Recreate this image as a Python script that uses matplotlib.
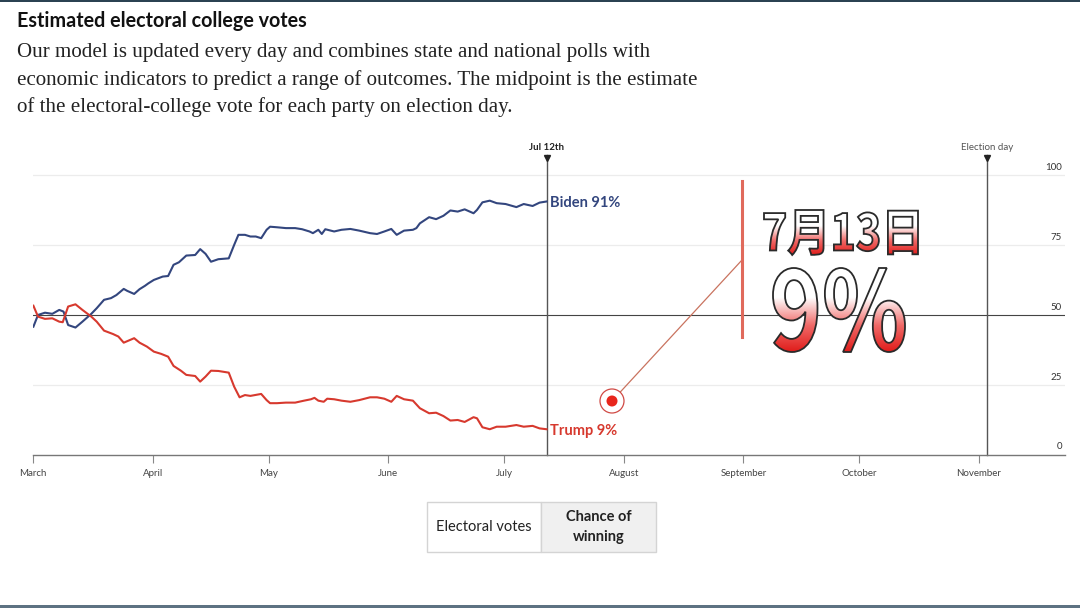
import numpy as np
import matplotlib
matplotlib.use("Agg")
import matplotlib.pyplot as plt
from matplotlib.textpath import TextPath
from matplotlib.font_manager import FontProperties
from matplotlib.patches import PathPatch, Rectangle, Circle
from matplotlib.transforms import Affine2D
from matplotlib.colors import LinearSegmentedColormap

# days counted from 1 March
biden_days = [0.1, 1.3, 3.1, 5.0, 6.8, 7.9, 9.1, 11.0, 12.8, 15.1, 16.5, 18.4, 20.2, 21.6,
              23.5, 24.4, 26.2, 27.6, 29.0, 29.9, 31.3, 33.6, 35.0, 36.4, 37.8, 39.7, 42.0,
              43.3, 44.7, 46.1, 48.0, 50.7, 52.1, 53.2, 54.9, 56.3, 57.7, 59.1, 60.5, 61.4,
              63.2, 65.5, 67.9, 69.7, 71.6, 72.5, 73.9, 74.8, 75.7, 78.0, 79.9, 82.2, 84.5,
              87.3, 89.1, 91.0, 92.8, 94.2, 96.1, 98.4, 99.3, 100.2, 102.6, 104.4, 106.3,
              108.1, 110.0, 111.8, 114.1, 115.0, 116.4, 118.3, 120.1, 122.4, 125.2, 127.1,
              129.4, 131.2, 133.0]
biden_vals = [45.8, 50.0, 50.8, 50.4, 51.8, 51.2, 46.4, 45.5, 47.6, 50.4, 52.4, 55.4, 56.0, 57.1,
              59.3, 58.6, 57.5, 59.2, 60.4, 61.3, 62.5, 63.7, 63.9, 67.9, 68.8, 71.2, 71.4,
              73.5, 71.8, 69.0, 69.9, 70.2, 75.0, 78.6, 78.6, 78.0, 78.0, 77.4, 80.4, 81.5,
              81.3, 81.0, 81.0, 80.6, 79.8, 79.2, 80.4, 78.9, 80.6, 79.8, 80.4, 80.7, 80.1,
              79.2, 78.9, 79.8, 80.7, 78.6, 80.1, 80.4, 81.0, 82.7, 84.9, 84.2, 85.4,
              87.3, 86.9, 87.7, 86.3, 87.5, 90.2, 90.8, 89.9, 89.6, 88.5, 89.6,
              88.9, 90.1, 90.5]

trump_days = [0.1, 1.3, 3.1, 5.0, 6.8, 7.7, 9.1, 11.0, 12.8, 15.1, 16.5, 18.4, 20.7, 22.1,
              23.5, 26.2, 27.6, 29.5, 31.3, 33.2, 35.0, 36.4, 38.3, 39.7, 42.0, 43.3, 44.7,
              46.1, 48.0, 50.7, 52.1, 53.5, 54.9, 56.3, 59.1, 60.5, 61.4, 63.2, 65.5, 67.9,
              70.2, 72.0, 72.9, 73.9, 75.3, 76.2, 78.0, 79.9, 82.2, 84.5, 87.3, 89.1, 91.0,
              92.8, 94.2, 96.1, 98.4, 100.2, 102.6, 104.4, 106.3, 108.1, 110.0, 111.8,
              114.1, 115.0, 116.4, 118.3, 120.1, 122.4, 125.2, 127.1, 129.4, 131.2, 133.0]
trump_vals = [53.3, 49.4, 48.6, 48.8, 47.6, 47.4, 53.0, 53.8, 51.8, 49.4, 47.6, 44.4, 43.2, 42.3,
              40.1, 41.7, 40.1, 38.7, 36.9, 36.1, 35.1, 31.8, 30.1, 28.6, 28.2, 26.2, 28.0,
              30.1, 30.0, 29.4, 24.4, 20.6, 21.4, 21.1, 21.8, 19.6, 18.5, 18.5, 18.7, 18.7,
              19.4, 19.9, 20.4, 19.4, 19.0, 20.1, 19.9, 19.4, 19.0, 19.6, 20.6, 20.6, 20.1,
              19.0, 21.1, 19.9, 19.4, 16.7, 14.9, 15.1, 13.9, 12.3, 12.5, 11.8,
              13.5, 13.1, 9.9, 9.2, 10.1, 10.1, 10.7, 10.1, 10.4, 9.5, 9.2]

month_names = ["March", "April", "May", "June", "July", "August", "September", "October", "November"]
month_days = [0, 31, 61, 92, 122, 153, 184, 214, 245]
y_ticks = [0, 25, 50, 75, 100]
today_day = 133      # Jul 12th
election_day = 247   # Nov 3rd

blue = "#33467e"
red = "#d7392e"
sans = "Lato"

W, H = 1080, 608
fig = plt.figure(figsize=(W / 100, H / 100), dpi=100)
fig.patch.set_facecolor("white")

def fx(px):
    return px / W

def fy(py):
    return 1 - py / H

# main chart axes
ax = fig.add_axes([fx(33), fy(455), fx(1065) - fx(33), fy(155) - fy(455)])
ax.set_xlim(0, (1065 - 33) / 3.861)
ax.set_ylim(0, 107.1)
ax.patch.set_alpha(0)
for s in ["top", "right", "left"]:
    ax.spines[s].set_visible(False)
ax.spines["bottom"].set_color("#777777")
ax.spines["bottom"].set_linewidth(1.0)

for v in y_ticks[1:]:
    if v == 50:
        ax.axhline(v, color="#444444", lw=0.8, zorder=1)
    else:
        ax.axhline(v, color="#ececec", lw=0.9, zorder=0)
    ax.text(0.997, v + 1.0, str(v), transform=ax.get_yaxis_transform(), ha="right", va="bottom",
            fontsize=7, color="#333333", family=sans)
ax.text(0.997, 1.4, "0", transform=ax.get_yaxis_transform(), ha="right", va="bottom",
        fontsize=7, color="#333333", family=sans)
ax.set_yticks([])

ax.set_xticks(month_days)
ax.set_xticklabels(month_names, fontsize=7, color="#444444", family=sans)
ax.tick_params(axis="x", length=6, width=0.8, color="#888888", pad=4)

# today and election-day markers
for d, lab, w, c in [(today_day, "Jul 12th", "bold", "#222222"),
                     (election_day, "Election day", "normal", "#555555")]:
    ax.plot([d, d], [0, 107.1], color="#555555", lw=1.0, zorder=2, clip_on=False)
    ax.plot(d, 106.2, marker="v", color="#222222", ms=4.5, clip_on=False, zorder=3)
    ax.text(d, 108.0, lab, ha="center", va="bottom", fontsize=7, fontweight=w,
            color=c, family=sans, clip_on=False)

ax.plot(biden_days, biden_vals, color=blue, lw=1.5, zorder=4)
ax.plot(trump_days, trump_vals, color=red, lw=1.5, zorder=4)
ax.text(today_day + 1, biden_vals[-1] - 0.6, "Biden 91%", color=blue, fontsize=10.5,
        fontweight="bold", family=sans, va="center", ha="left")
ax.text(today_day + 1, trump_vals[-1] - 0.8, "Trump 9%", color=red, fontsize=10.5,
        fontweight="bold", family=sans, va="center", ha="left")

# overlay in pixel coordinates
ov = fig.add_axes([0, 0, 1, 1])
ov.set_xlim(0, W)
ov.set_ylim(H, 0)
ov.axis("off")
ov.patch.set_alpha(0)

# frame strips at top and bottom
ov.add_patch(Rectangle((0, 0), W, 2.2, color="#2b4252", lw=0))
ov.add_patch(Rectangle((0, 605), W, 3.5, color="#5d7282", lw=0))

# title and subtitle
ov.text(17, 21, "Estimated electoral college votes", fontsize=14.2, fontweight="bold",
        family=sans, color="#111111", va="center", ha="left")
subtitle = ["Our model is updated every day and combines state and national polls with",
            "economic indicators to predict a range of outcomes. The midpoint is the estimate",
            "of the electoral-college vote for each party on election day."]
for i, line in enumerate(subtitle):
    ov.text(17, 53 + 27 * i, line, fontsize=15.1, family="Liberation Serif",
            color="#222222", va="center", ha="left")

# toggle buttons
ov.add_patch(Rectangle((427, 502), 114, 50, facecolor="white", edgecolor="#d4d4d4", lw=1))
ov.add_patch(Rectangle((541, 502), 115, 50, facecolor="#f0f0f0", edgecolor="#d4d4d4", lw=1))
ov.text(484, 527, "Electoral votes", fontsize=10.5, family=sans, color="#222222",
        ha="center", va="center")
ov.text(598.5, 527, "Chance of\nwinning", fontsize=10.5, family=sans, color="#222222",
        fontweight="bold", ha="center", va="center", linespacing=1.5)

# annotation: dot, ring, connector, red bar
ov.plot([612, 742], [401, 260], color="#c9735f", lw=0.9, zorder=5)
ov.add_patch(Circle((612, 401), 12, facecolor="white", edgecolor="#d04a45", lw=0.9, zorder=6))
ov.add_patch(Circle((612, 401), 5.5, facecolor="#e8261c", edgecolor="none", zorder=7))
ov.plot([742, 742], [181, 337], color="#e06a5c", lw=2.2, zorder=5)

grad = LinearSegmentedColormap.from_list("wr", [(0, "#ffffff"), (0.35, "#ffffff"),
                                                (0.68, "#f06a68"), (1, "#e01c1a")])

def gradient_text(s, x0, x1, y0, y1, prop):
    tp = TextPath((0, 0), s, size=100, prop=prop)
    bb = tp.get_extents()
    sx = (x1 - x0) / bb.width
    sy = (y1 - y0) / bb.height
    tr = Affine2D().translate(-bb.x0, -bb.y1).scale(sx, -sy).translate(x0, y0)
    path = tr.transform_path(tp)
    patch = PathPatch(path, facecolor="none", edgecolor="#2a2a2a", lw=1.3, zorder=9)
    ov.add_patch(patch)
    img = ov.imshow(np.linspace(0, 1, 256).reshape(-1, 1), cmap=grad, aspect="auto",
                    extent=(x0, x1, y1, y0), origin="upper", zorder=8)
    img.set_clip_path(patch)

cjk = FontProperties(family="Noto Sans CJK SC", weight="black")
gradient_text("7月13日", 764, 918, 210, 255, cjk)
gradient_text("9%", 773, 905, 268, 352, cjk)

ov.set_xlim(0, W)
ov.set_ylim(H, 0)

fig.savefig("out.png", dpi=100)
